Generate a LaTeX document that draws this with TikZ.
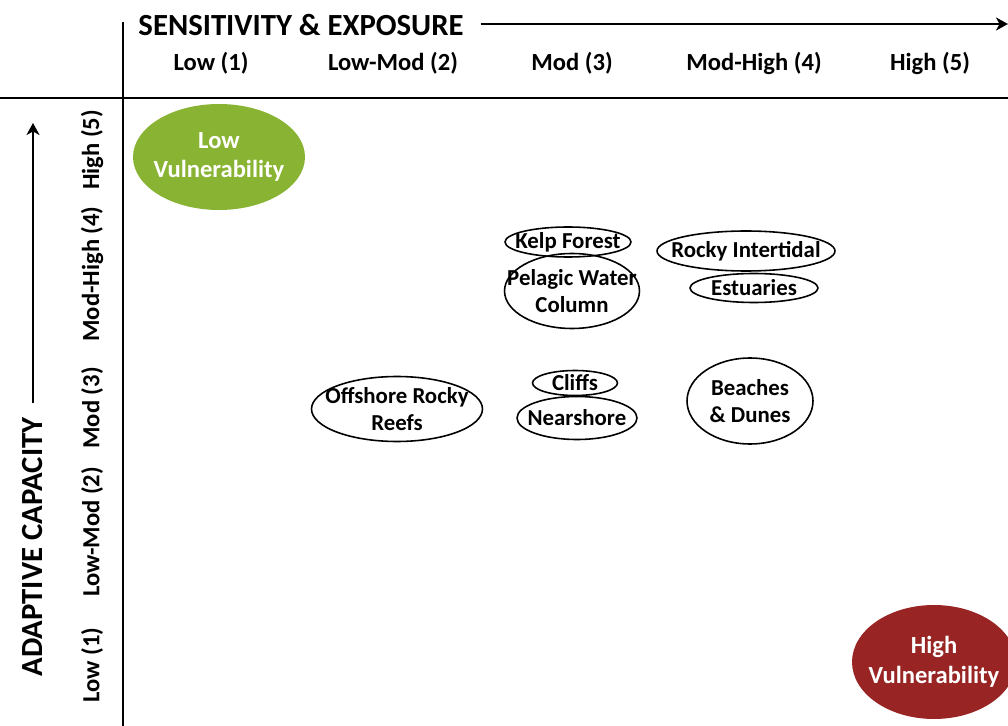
\documentclass[tikz,border=0pt]{standalone}
\usepackage{fontspec}
\setmainfont{Carlito}
\usepackage{tikz}
\usetikzlibrary{shapes.geometric, arrows.meta}
\usepackage{xcolor}
\definecolor{lowgreen}{RGB}{137,179,50}
\definecolor{highred}{RGB}{152,36,36}
\tikzset{
    axistitle/.style={font=\fontsize{17.5}{20}\selectfont\bfseries},
    axisarrow/.style={-{Stealth[length=2.4mm, width=2.6mm, inset=0.7mm]}, line width=1.3pt},
    levellabel/.style={font=\fontsize{14}{16}\selectfont\bfseries},
    habitat/.style={draw, ellipse, line width=0.9pt, inner sep=0pt},
    habtext/.style={font=\fontsize{13}{15}\selectfont\bfseries, align=center},
    vulspot/.style={ellipse, inner sep=0pt},
    vultext/.style={text=white, font=\fontsize{14}{17}\selectfont\bfseries, align=center},
}

\begin{document}
\begin{tikzpicture}[x=0.02cm, y=-0.02cm]
                \useasboundingbox (0,0) rectangle (1008,726);
                % \draw[step=50, gray, very thin] (0,0) grid (1008,726);
                \draw[line width=1.6pt] (0,98) -- (1008,98);
                \draw[line width=1.2pt] (123,22) -- (123,726);

                \node[axistitle] (sens) at (301,25) {SENSITIVITY \& EXPOSURE};
                \coordinate (sensend) at (1008,24);
                \draw[axisarrow] (sens.east) ++(11,-1) -- (sensend);

                \node[axistitle, rotate=90] (adapt) at (33,547) {ADAPTIVE CAPACITY};
                \coordinate (adaptend) at (33,123);
                \draw[axisarrow] (adapt.east) ++(0,-8) -- (adaptend);

                \foreach \lab/\x [count=\i] in {{Low (1)}/211, {Low-Mod (2)}/393, {Mod (3)}/572, {Mod-High (4)}/754, {High (5)}/930} {
                        \node[levellabel] (col\i) at (\x,63) {\lab};
                    }
                \foreach \lab/\y [count=\i] in {{Low (1)}/665, {Low-Mod (2)}/532, {Mod (3)}/408, {Mod-High (4)}/274, {High (5)}/150} {
                        \node[levellabel, rotate=90] (row\i) at (92,\y) {\lab};
                    }

                \node[vulspot, fill=lowgreen, minimum width=3.44cm, minimum height=2.12cm,
                    label={[vultext]center:{Low\\Vulnerability}}] (lowvul) at (219,157) {};
                \node[vulspot, fill=highred, minimum width=3.28cm, minimum height=2.28cm,
                    label={[vultext]center:{High\\Vulnerability}}] (highvul) at (934,662) {};

                \node[habitat, minimum width=2.52cm, minimum height=0.6cm,
                    label={[habtext]center:Kelp Forest}] (kelp) at (568,242) {};
                \node[habitat, minimum width=2.7cm, minimum height=1.5cm,
                    label={[habtext]center:{Pelagic Water\\Column}}] (pelagic) at (572,291) {};
                \node[habitat, minimum width=3.56cm, minimum height=0.8cm,
                    label={[habtext]center:Rocky Intertidal}] (rocky) at (746,251) {};
                \node[habitat, minimum width=2.56cm, minimum height=0.58cm,
                    label={[habtext]center:Estuaries}] (estuaries) at (754,288) {};

                \node[habitat, minimum width=3.42cm, minimum height=1.3cm,
                    label={[habtext]center:{Offshore Rocky\\Reefs}}] (offshore) at (397,409) {};
                \node[habitat, minimum width=1.7cm, minimum height=0.5cm,
                    label={[habtext]center:Cliffs}] (cliffs) at (575,383) {};
                \node[habitat, minimum width=2.4cm, minimum height=0.86cm,
                    label={[habtext]center:Nearshore}] (nearshore) at (577,418) {};
                \node[habitat, minimum width=2.52cm, minimum height=1.72cm,
                    label={[habtext]center:{Beaches\\\& Dunes}}] (beaches) at (750,401) {};

            \end{tikzpicture}
\end{document}
